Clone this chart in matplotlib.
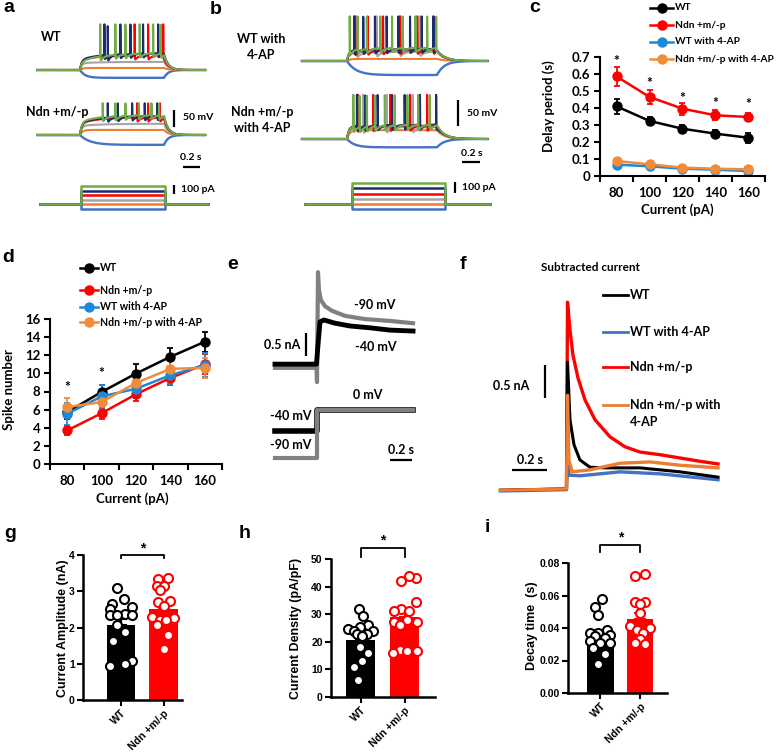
import numpy as np
import matplotlib.pyplot as plt
from matplotlib.lines import Line2D
from matplotlib.ticker import FuncFormatter

W, H = 778, 756
CAL = ['Lato', 'DejaVu Sans']
ARI = ['Liberation Sans', 'DejaVu Sans']

# ---------- a / b : current-clamp traces ----------
C_BLUE, C_ORANGE, C_GRAY = '#4472C4', '#ED7D31', '#A5A5A5'
C_RED, C_NAVY, C_GREEN = '#FF0000', '#1C2C6E', '#70AD47'
trace_names = ['blue', 'orange', 'gray', 'red', 'navy', 'green']
trace_cols = [C_BLUE, C_ORANGE, C_GRAY, C_RED, C_NAVY, C_GREEN]
step_pA = [-50, 0, 50, 100, 150, 200]

# membrane response (mV above rest): fast jump, slow creep, time constant
a_wt_fast = [-23, 6, 20, 30, 30, 24]
a_wt_slow = [0, 0, 4, 14, 20, 26]
a_wt_tau = [0.06, 0.03, 0.02, 0.02, 0.02, 0.02]
a_wt_spikes = {'red': [0.65, 0.81, 0.99],
               'navy': [0.29, 0.33, 0.48, 0.60, 0.75, 0.93],
               'green': [0.24, 0.42, 0.54, 0.71, 0.87, 0.96]}

a_ndn_fast = [-29, 15, 27, 35, 35, 38]
a_ndn_slow = [0, 0, 6, 18, 22, 22]
a_ndn_tau = [0.12, 0.03, 0.02, 0.02, 0.02, 0.02]
a_ndn_spikes = {'red': [0.68, 0.81, 0.95],
                'navy': [0.33, 0.45, 0.62, 0.77, 0.92],
                'green': [0.27, 0.42, 0.54, 0.70, 0.85, 0.94]}

b_wt_fast = [-27, 4, 14, 18, 20, 22]
b_wt_slow = [0, 0, 4, 4, 4, 4]
b_wt_tau = [0.10, 0.03, 0.02, 0.02, 0.02, 0.02]
b_wt_spikes = {'gray': [0.11, 0.33, 0.59, 0.81],
               'red': [0.09, 0.23, 0.40, 0.59, 0.78, 0.96],
               'navy': [0.08, 0.18, 0.31, 0.44, 0.57, 0.70, 0.83, 0.96],
               'green': [0.03, 0.12, 0.22, 0.37, 0.50, 0.62, 0.76, 0.89, 0.99]}

b_ndn_fast = [-16, 17, 20, 22, 24, 22]
b_ndn_slow = [0, 0, 3, 4, 4, 6]
b_ndn_tau = [0.08, 0.03, 0.02, 0.02, 0.02, 0.02]
b_ndn_spikes = {'gray': [0.18, 0.44, 0.73],
                'red': [0.12, 0.29, 0.48, 0.70, 0.89],
                'navy': [0.11, 0.20, 0.34, 0.50, 0.64, 0.81, 0.99],
                'green': [0.07, 0.14, 0.22, 0.31, 0.42, 0.53, 0.67, 0.79, 0.92]}

# ---------- c / d : summary vs injected current ----------
currents = [80, 100, 120, 140, 160]
group_labels = ['WT', 'Ndn +m/-p', 'WT with 4-AP', 'Ndn +m/-p with 4-AP']
group_cols = ['black', '#FF0000', '#1E88D8', '#F08C3A']

delay_wt = [0.41, 0.324, 0.278, 0.249, 0.225]
delay_wt_err = [0.045, 0.025, 0.02, 0.02, 0.03]
delay_ndn = [0.586, 0.465, 0.396, 0.357, 0.347]
delay_ndn_err = [0.055, 0.04, 0.035, 0.03, 0.025]
delay_wt4 = [0.067, 0.057, 0.043, 0.037, 0.029]
delay_wt4_err = [0.008, 0.007, 0.006, 0.006, 0.005]
delay_ndn4 = [0.088, 0.069, 0.049, 0.043, 0.039]
delay_ndn4_err = [0.009, 0.007, 0.006, 0.006, 0.005]
delay_star_y = [0.675, 0.545, 0.46, 0.43, 0.425]

spk_wt = [5.73, 7.95, 9.98, 11.83, 13.49]
spk_wt_err = [0.8, 0.8, 1.0, 1.0, 1.1]
spk_ndn = [3.7, 5.6, 7.7, 9.5, 11.0]
spk_ndn_err = [0.5, 0.6, 0.8, 0.8, 1.1]
spk_wt4 = [5.54, 7.46, 8.3, 9.8, 10.9]
spk_wt4_err = [1.2, 1.3, 1.0, 1.0, 1.3]
spk_ndn4 = [6.28, 6.84, 8.94, 10.5, 10.6]
spk_ndn4_err = [1.0, 1.0, 0.9, 1.0, 1.1]
spk_star_x = [80, 100]
spk_star_y = [8.5, 10.0]

# ---------- e : voltage-clamp currents ----------
e_t_90 = [-0.382, -0.005, 0.0, 0.009, 0.018, 0.036, 0.073, 0.136, 0.255, 0.436, 0.664, 0.873]
e_i_90 = [-0.04, -0.04, -0.35, 2.04, 1.65, 1.43, 1.30, 1.20, 1.09, 1.02, 0.98, 0.93]
e_t_40 = [-0.382, -0.005, 0.009, 0.027, 0.064, 0.164, 0.30, 0.482, 0.664, 0.873]
e_i_40 = [0.04, 0.04, 0.46, 0.96, 1.00, 0.93, 0.87, 0.83, 0.78, 0.76]
e_prot_t = [-0.382, 0.0, 0.0, 0.873]
e_prot_40 = [-40, -40, 0, 0]
e_prot_90 = [-90, -90, 0, 0]

# ---------- f : subtracted current ----------
f_t_wt = [-0.38, -0.003, 0.003, 0.017, 0.04, 0.074, 0.131, 0.217, 0.417, 0.646, 0.863]
f_i_wt = [-0.02, 0.0, 1.92, 1.05, 0.67, 0.44, 0.33, 0.32, 0.32, 0.26, 0.18]
f_t_ndn = [-0.38, -0.003, 0.003, 0.017, 0.034, 0.063, 0.103, 0.16, 0.246, 0.331, 0.417,
           0.531, 0.646, 0.76, 0.863]
f_i_ndn = [-0.02, 0.0, 2.83, 2.41, 2.03, 1.68, 1.35, 1.05, 0.79, 0.64, 0.56,
           0.52, 0.47, 0.42, 0.38]
f_t_wt4 = [-0.38, -0.003, 0.003, 0.011, 0.074, 0.303, 0.531, 0.863]
f_i_wt4 = [-0.03, -0.01, 0.56, 0.21, 0.20, 0.26, 0.23, 0.14]
f_t_ndn4 = [-0.38, -0.003, 0.003, 0.011, 0.029, 0.131, 0.303, 0.474, 0.646, 0.863]
f_i_ndn4 = [-0.02, 0.0, 1.42, 0.44, 0.26, 0.29, 0.39, 0.41, 0.36, 0.32]
f_labels = ['WT', 'WT with 4-AP', 'Ndn +m/-p', 'Ndn +m/-p with\n4-AP']
f_cols = ['black', '#4472C4', '#FF0000', '#ED7D31']

# ---------- g / h / i : bar + dots ----------
bar_names = ['WT', 'Ndn +m/-p']
g_mean, g_sem = [2.07, 2.52], [0.16, 0.17]
g_wt = [3.1, 2.79, 2.65, 2.56, 2.52, 2.38, 2.34, 2.34, 2.34, 2.07, 1.87, 1.62, 1.08, 0.99, 0.94]
g_ndn = [3.37, 3.33, 3.15, 3.15, 3.04, 2.74, 2.7, 2.59, 2.29, 2.25, 2.2, 2.2, 2.07, 1.8, 1.42]
h_mean, h_sem = [20.8, 29.0], [1.8, 2.3]
h_wt = [32, 29.5, 26, 25.5, 24.5, 24, 24, 23, 23, 22, 18, 16, 13, 11, 6]
h_ndn = [43, 44, 42, 34.5, 32, 31, 31, 28, 27, 27, 26, 17, 16.5, 16.5, 16]
i_mean, i_sem = [0.0361, 0.0455], [0.0025, 0.0035]
i_wt = [0.058, 0.053, 0.048, 0.039, 0.037, 0.037, 0.036, 0.035, 0.034, 0.032, 0.031,
        0.031, 0.028, 0.024, 0.018]
i_ndn = [0.073, 0.072, 0.056, 0.056, 0.055, 0.049, 0.041, 0.040, 0.039, 0.037, 0.033,
         0.031, 0.030]
# horizontal scatter of the dots (fraction of bar spacing)
g_wt_dx = [-0.105, 0.07, -0.22, 0.25, -0.27, 0.09, -0.26, -0.09, 0.27, -0.09, 0.09, -0.18, 0.25, 0.09, -0.26]
g_ndn_dx = [0.116, -0.12, -0.16, 0.013, -0.09, 0.16, -0.12, 0.013, -0.26, 0.24, -0.09, 0.06, -0.16, 0.116, 0.0]
h_wt_dx = [-0.03, 0.05, 0.18, -0.01, -0.28, -0.14, 0.29, -0.09, 0.14, 0.03, -0.01, 0.18, 0.03, -0.14, -0.06]
h_ndn_dx = [0.26, 0.09, -0.09, 0.26, -0.09, -0.25, 0.09, 0.05, -0.25, 0.28, -0.1, -0.1, 0.05, 0.28, -0.27]
i_wt_dx = [0.03, -0.14, -0.05, 0.16, -0.27, -0.05, 0.24, -0.14, 0.11, -0.27, -0.01, 0.24, -0.18, 0.11, -0.05]
i_ndn_dx = [0.13, -0.13, -0.13, 0.13, 0.0, 0.0, -0.25, 0.25, -0.08, 0.08, 0.0, -0.13, 0.13]

fig = plt.figure(figsize=(W / 100, H / 100), dpi=100)


def box(x0, y0, x1, y1):
    return fig.add_axes([x0 / W, 1 - y1 / H, (x1 - x0) / W, (y1 - y0) / H])


def trace_axes(x0, y0, x1, y1, xt0, xs, yv0, v0, vs):
    ax = box(x0, y0, x1, y1)
    ax.set_xlim((x0 - xt0) / xs, (x1 - xt0) / xs)
    ax.set_ylim(v0 - (y1 - yv0) / vs, v0 + (yv0 - y0) / vs)
    ax.axis('off')
    return ax


def px2data(ax, x, y):
    return ax.transData.inverted().transform((x, H - y))


def vbar(ax, x, ybot, length):
    xd, yd = px2data(ax, x, ybot)
    ax.plot([xd, xd], [yd, yd + length], color='black', lw=1.6, clip_on=False,
            solid_capstyle='butt')


def hbar(ax, xl, y, length):
    xd, yd = px2data(ax, xl, y)
    ax.plot([xd, xd + length], [yd, yd], color='black', lw=1.6, clip_on=False,
            solid_capstyle='butt')


def ftext(x, y, s, size=9, fam=CAL, ha='center', va='center', **kw):
    fig.text(x / W, 1 - y / H, s, fontsize=size, family=fam, fontweight='bold',
             ha=ha, va=va, **kw)


def fline(x0, x1, y, color, lw=1.8, marker=None):
    fig.add_artist(Line2D([x0 / W, x1 / W], [1 - y / H] * 2, transform=fig.transFigure,
                          color=color, lw=lw))
    if marker:
        fig.add_artist(Line2D([(x0 + x1) / 2 / W], [1 - y / H], transform=fig.transFigure,
                              color=color, marker=marker, ms=6.5, lw=0))


def vtrace(t, fast, slow, tau, spikes, peak_rel, ahp, tau_off):
    s = np.clip(t, 0, 1)
    base = fast * (1 - np.exp(-s / tau)) + slow * (1 - np.exp(-s / 0.25))
    end = fast * (1 - np.exp(-1 / tau)) + slow * (1 - np.exp(-1 / 0.25))
    v = np.where(t < 0, 0.0, np.where(t <= 1, base, end * np.exp(-(t - 1) / tau_off)))
    out = v.copy()
    for ts in spikes:
        d = t - ts
        m = d >= 0
        v0 = np.interp(ts, t, v)
        dm = d[m]
        out[m] += (peak_rel - v0) * np.exp(-np.clip(dm - 0.001, 0, None) / 0.0012) \
            - ahp * (1 - np.exp(-dm / 0.0015)) * np.exp(-dm / 0.04)
    return out


def draw_vpanel(ax, t, fast, slow, taus, spikes, peak_rel, ahp, tau_off, rest=-65):
    for k, (nm, col) in enumerate(zip(trace_names, trace_cols)):
        v = vtrace(t, fast[k], slow[k], taus[k], spikes.get(nm, []), peak_rel, ahp, tau_off)
        ax.plot(t, rest + v, color=col, lw=1.5 if nm != 'blue' else 1.7)


def draw_steps(ax, t0, t1):
    for lvl, col in zip(step_pA, trace_cols):
        ax.plot([t0, 0, 0, 1, 1, t1], [0, 0, lvl, lvl, 0, 0], color=col, lw=1.8)


# ---- panel a ----
ta = np.arange(-0.51, 1.49, 0.0004)
ax_a1 = trace_axes(30, 10, 215, 90, 80, 84, 70, -65, 0.34)
draw_vpanel(ax_a1, ta, a_wt_fast, a_wt_slow, a_wt_tau, a_wt_spikes, 138, 15, 0.05)
ax_a2 = trace_axes(30, 92, 215, 160, 80, 84, 135, -65, 0.34)
draw_vpanel(ax_a2, ta, a_ndn_fast, a_ndn_slow, a_ndn_tau, a_ndn_spikes, 97, 15, 0.05)
ax_a3 = trace_axes(30, 175, 215, 215, 81, 84, 204, 0, 0.09)
draw_steps(ax_a3, -0.49, 1.51)
vbar(ax_a2, 174, 127, 50)
hbar(ax_a2, 183, 167, 0.2)
vbar(ax_a3, 174, 194, 100)
ftext(51, 37, 'WT')
ftext(57, 112, 'Ndn +m/-p')
ftext(183, 118, '50 mV', size=7.5, ha='left')
ftext(191, 158, '0.2 s', size=7.5)
ftext(181, 190, '100 pA', size=7.5, ha='left')

# ---- panel b ----
tb = np.arange(-0.5, 1.56, 0.0004)
ax_b1 = trace_axes(295, 10, 495, 90, 347, 90, 61, -65, 0.52)
draw_vpanel(ax_b1, tb, b_wt_fast, b_wt_slow, b_wt_tau, b_wt_spikes, 86, 10, 0.08)
ax_b2 = trace_axes(295, 85, 495, 165, 347, 90, 139, -65, 0.52)
draw_vpanel(ax_b2, tb, b_ndn_fast, b_ndn_slow, b_ndn_tau, b_ndn_spikes, 85, 12, 0.08)
ax_b3 = trace_axes(295, 175, 495, 215, 352, 93, 204, 0, 0.105)
draw_steps(ax_b3, -0.505, 1.48)
vbar(ax_b2, 458, 126, 50)
hbar(ax_b2, 462, 162, 0.2)
vbar(ax_b3, 455, 193, 100)
ftext(261, 39, 'WT with')
ftext(261, 55, '4-AP')
ftext(262, 112, 'Ndn +m/-p')
ftext(262, 128, 'with 4-AP')
ftext(467, 113, '50 mV', size=7.5, ha='left')
ftext(472, 154, '0.2 s', size=7.5)
ftext(462, 188, '100 pA', size=7.5, ha='left')


# ---- panels c / d ----
def excel_axes(ax, ylim, yticks, yfmt):
    ax.set_xlim(70, 170)
    ax.set_ylim(*ylim)
    ax.set_yticks(yticks)
    ax.yaxis.set_major_formatter(FuncFormatter(yfmt))
    ax.set_xticks(currents)
    ax.set_xticks(np.arange(70, 171, 20), minor=True)
    ax.tick_params(axis='x', which='major', length=0, pad=8)
    ax.tick_params(axis='x', which='minor', length=4, width=1.5, direction='out')
    ax.tick_params(axis='y', length=4, width=1.5, direction='out', pad=3)
    for sp in ['top', 'right']:
        ax.spines[sp].set_visible(False)
    for sp in ['left', 'bottom']:
        ax.spines[sp].set_linewidth(1.5)
    for lab in ax.get_xticklabels() + ax.get_yticklabels():
        lab.set_family(CAL)
        lab.set_fontweight('bold')
        lab.set_fontsize(9.5)


ax_c = box(600, 57, 765, 176)
for m, e, col in zip([delay_wt, delay_ndn, delay_wt4, delay_ndn4],
                     [delay_wt_err, delay_ndn_err, delay_wt4_err, delay_ndn4_err], group_cols):
    ax_c.errorbar(currents, m, yerr=e, color=col, marker='o', ms=6.5, lw=1.8,
                  capsize=2.5, elinewidth=1.3, capthick=1.3)
excel_axes(ax_c, (0, 0.7), np.arange(0, 0.71, 0.1),
           lambda v, p: '0' if abs(v) < 1e-9 else f'{v:.1f}')
for x, y in zip(currents, delay_star_y):
    ax_c.text(x, y, '*', ha='center', va='center', fontsize=10, family=CAL, fontweight='bold')
ftext(549, 106, 'Delay period (s)', size=9.5, rotation=90)
ftext(677, 210, 'Current (pA)', size=9.5)
for yy, col, lab in zip([8, 25, 42, 59], group_cols, group_labels):
    fline(650, 673, yy, col, marker='o')
    ftext(675, yy, lab, size=7.3, ha='left')

ax_d = box(50, 319, 222, 464)
for m, e, col in zip([spk_wt, spk_ndn, spk_wt4, spk_ndn4],
                     [spk_wt_err, spk_ndn_err, spk_wt4_err, spk_ndn4_err], group_cols):
    ax_d.errorbar(currents, m, yerr=e, color=col, marker='o', ms=6.5, lw=1.8,
                  capsize=2.5, elinewidth=1.3, capthick=1.3)
excel_axes(ax_d, (0, 16), np.arange(0, 17, 2), lambda v, p: f'{v:.0f}')
for x, y in zip(spk_star_x, spk_star_y):
    ax_d.text(x, y, '*', ha='center', va='center', fontsize=10, family=CAL, fontweight='bold')
ftext(9, 390, 'Spike number', size=9.5, rotation=90)
ftext(132, 499, 'Current (pA)', size=9.5)
for yy, col, lab in zip([268, 290, 307, 322], group_cols, group_labels):
    fline(80, 98, yy, col, marker='o')
    ftext(100, yy, lab, size=7.6, ha='left')

# ---- panel e ----
ax_e1 = trace_axes(265, 262, 420, 392, 317, 110, 366, 0, 46)
ax_e1.plot(e_t_90, e_i_90, color='#808080', lw=3)
ax_e1.plot(e_t_40, e_i_40, color='black', lw=3.5)
ax_e2 = trace_axes(265, 395, 420, 470, 317, 110, 410, 0, 0.53)
ax_e2.plot(e_prot_t, e_prot_40, color='black', lw=4)
ax_e2.plot(e_prot_t, e_prot_90, color='#808080', lw=3)
vbar(ax_e1, 306, 356, 0.5)
hbar(ax_e2, 390, 460, 0.2)
ftext(375, 305, '-90 mV')
ftext(376, 347, '-40 mV')
ftext(282, 345, '0.5 nA')
ftext(368, 395, '0 mV')
ftext(291, 416, '-40 mV')
ftext(291, 445, '-90 mV')
ftext(401, 450, '0.2 s')

# ---- panel f ----
ax_f = trace_axes(495, 285, 725, 495, 567, 175, 489, 0, 66)
ax_f.plot(f_t_ndn, f_i_ndn, color=f_cols[2], lw=2.4)
ax_f.plot(f_t_wt4, f_i_wt4, color=f_cols[1], lw=2.4)
ax_f.plot(f_t_wt, f_i_wt, color=f_cols[0], lw=2.2)
ax_f.plot(f_t_ndn4, f_i_ndn4, color=f_cols[3], lw=2.4)
vbar(ax_f, 545, 398, 0.5)
hbar(ax_f, 512, 470, 0.2)
ftext(511, 386, '0.5 nA')
ftext(530, 460, '0.2 s')
ftext(590, 267, 'Subtracted current', size=8.5)
for yy, col, lab in zip([295, 332, 367, 405], f_cols, f_labels):
    fline(603, 628, yy, col, lw=2)
    ftext(630, yy, lab.split('\n')[0], ha='left')
    if '\n' in lab:
        ftext(630, yy + 17, lab.split('\n')[1], ha='left')


# ---- panels g / h / i ----
def bar_panel(ax, means, sems, wt, wt_dx, ndn, ndn_dx, xlim, ylim, yticks, yfmt,
              br_top, br_leg, star_y):
    cols = ['black', '#FF0000']
    ax.bar([0, 1], means, width=0.66, color=cols, zorder=1)
    for k in range(2):
        ax.errorbar([k], [means[k]], yerr=[[0], [sems[k]]], color=cols[k], capsize=4,
                    elinewidth=1.5, capthick=1.5, zorder=2)
    ax.scatter(np.array(wt_dx), wt, s=42, facecolor='white', edgecolor='black',
               linewidth=1.5, zorder=3, clip_on=False)
    ax.scatter(1 + np.array(ndn_dx), ndn, s=42, facecolor='white', edgecolor='#FF0000',
               linewidth=1.5, zorder=3, clip_on=False)
    ax.set_xlim(*xlim)
    ax.set_ylim(*ylim)
    ax.set_yticks(yticks)
    ax.yaxis.set_major_formatter(FuncFormatter(yfmt))
    ax.set_xticks([0, 1])
    ax.set_xticklabels(bar_names, rotation=45, ha='right', va='top', rotation_mode='anchor')
    ax.tick_params(length=4, width=1.5, direction='out', pad=2)
    ax.tick_params(axis='x', pad=2)
    for sp in ['top', 'right']:
        ax.spines[sp].set_visible(False)
    for sp in ['left', 'bottom']:
        ax.spines[sp].set_linewidth(1.8)
    for lab in ax.get_yticklabels():
        lab.set_family(ARI)
        lab.set_fontweight('bold')
        lab.set_fontsize(7.5)
    for lab in ax.get_xticklabels():
        lab.set_family(ARI)
        lab.set_fontweight('bold')
        lab.set_fontsize(7.6)
    ax.plot([0, 0, 1, 1], [br_leg, br_top, br_top, br_leg], color='black', lw=1.3,
            clip_on=False)
    ax.text(0.5, star_y, '*', ha='center', va='baseline', fontsize=10, family=ARI,
            fontweight='bold')


ax_g = box(83, 555, 182, 700)
bar_panel(ax_g, g_mean, g_sem, g_wt, g_wt_dx, g_ndn, g_ndn_dx, (-0.894, 1.435), (0, 4),
          [0, 1, 2, 3, 4], lambda v, p: f'{v:.0f}', 4.0, 3.92, 4.08)
ftext(63, 628, 'Current Amplitude (nA)', size=9, fam=ARI, rotation=90)

ax_h = box(331, 559, 435, 697)
bar_panel(ax_h, h_mean, h_sem, h_wt, h_wt_dx, h_ndn, h_ndn_dx, (-0.67, 1.69), (0, 50),
          np.arange(0, 51, 10), lambda v, p: f'{v:.0f}', 54, 50.7, 55.4)
ftext(296, 628, 'Current Density (pA/pF)', size=9, fam=ARI, rotation=90)

ax_i = box(568, 563, 667, 693)
bar_panel(ax_i, i_mean, i_sem, i_wt, i_wt_dx, i_ndn, i_ndn_dx, (-0.82, 1.68), (0, 0.08),
          np.arange(0, 0.081, 0.02), lambda v, p: f'{v:.2f}', 0.0911, 0.0868, 0.0935)
ftext(532, 626, 'Decay time  (s)', size=9, fam=ARI, rotation=90)

# ---- panel letters ----
for x, y, s in [(9, 8, 'a'), (216, 10, 'b'), (535, 8, 'c'), (8, 257, 'd'), (233, 265, 'e'),
                (463, 265, 'f'), (10, 533, 'g'), (245, 533, 'h'), (487, 528, 'i')]:
    ftext(x, y, s, size=14, fam=ARI)

fig.savefig('out.png', dpi=100, facecolor='white')
